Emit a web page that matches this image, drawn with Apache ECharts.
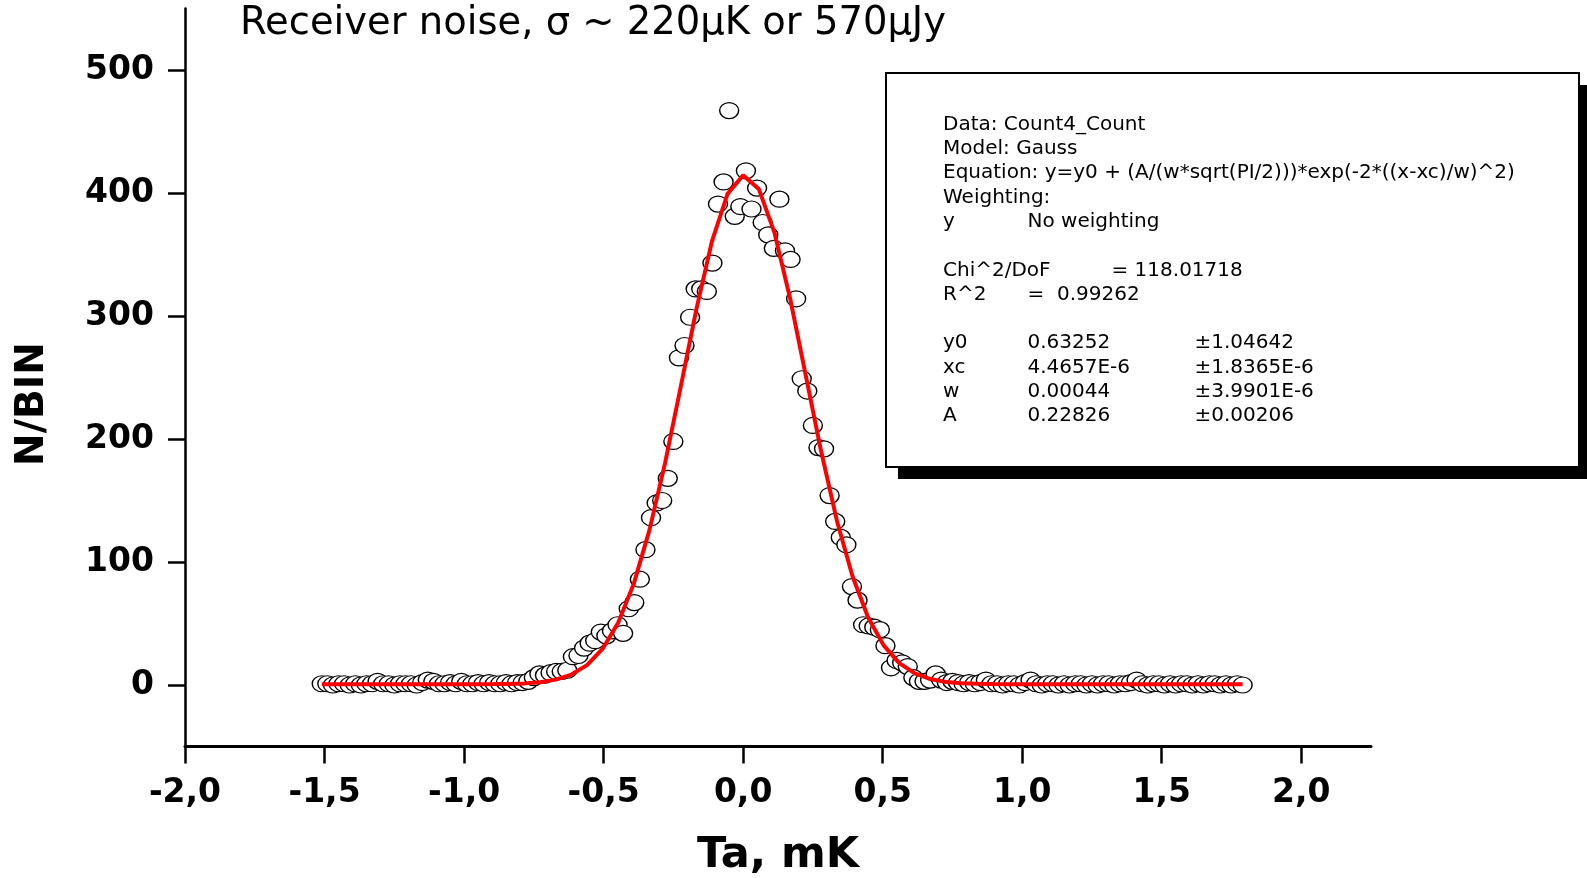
<!DOCTYPE html>
<html>
<head>
<meta charset="utf-8">
<script src="https://cdn.jsdelivr.net/npm/echarts@6/dist/echarts.min.js"></script>
<style>
html,body{margin:0;padding:0;background:#fff;}
#chart{width:1587px;height:878px;}
</style>
</head>
<body>
<div id="chart"></div>
<script>
// ---- data ----
const binCenters = [
-1.51,-1.49,-1.47,-1.45,-1.43,-1.41,-1.39,-1.37,-1.35,-1.33,
-1.31,-1.29,-1.27,-1.25,-1.23,-1.21,-1.19,-1.17,-1.15,-1.13,
-1.11,-1.09,-1.07,-1.05,-1.03,-1.01,-0.99,-0.97,-0.95,-0.93,
-0.91,-0.89,-0.87,-0.85,-0.83,-0.81,-0.79,-0.77,-0.75,-0.73,
-0.71,-0.69,-0.67,-0.65,-0.63,-0.61,-0.59,-0.57,-0.55,-0.53,
-0.51,-0.49,-0.47,-0.45,-0.43,-0.41,-0.39,-0.37,-0.35,-0.33,
-0.31,-0.29,-0.27,-0.25,-0.23,-0.21,-0.19,-0.17,-0.15,-0.13,
-0.11,-0.09,-0.07,-0.05,-0.03,-0.01,0.01,0.03,0.05,0.07,
0.09,0.11,0.13,0.15,0.17,0.19,0.21,0.23,0.25,0.27,
0.29,0.31,0.33,0.35,0.37,0.39,0.41,0.43,0.45,0.47,
0.49,0.51,0.53,0.55,0.57,0.59,0.61,0.63,0.65,0.67,
0.69,0.71,0.73,0.75,0.77,0.79,0.81,0.83,0.85,0.87,
0.89,0.91,0.93,0.95,0.97,0.99,1.01,1.03,1.05,1.07,
1.09,1.11,1.13,1.15,1.17,1.19,1.21,1.23,1.25,1.27,
1.29,1.31,1.33,1.35,1.37,1.39,1.41,1.43,1.45,1.47,
1.49,1.51,1.53,1.55,1.57,1.59,1.61,1.63,1.65,1.67,
1.69,1.71,1.73,1.75,1.77,1.79
];
const counts = [
1,1,0,1,1,0,1,0,1,1,
3,1,1,0,1,1,1,0,2,4,
3,1,1,2,1,3,1,1,2,1,
2,1,1,2,1,2,2,3,6,9,
8,10,11,11,12,23,24,30,34,36,
43,40,44,49,42,62,67,86,110,136,
148,150,168,198,266,276,299,322,322,320,
343,391,409,467,381,389,418,387,404,376,
366,355,395,353,346,314,249,239,211,193,
192,154,133,120,114,80,69,49,48,47,
45,32,14,20,18,15,6,3,3,4,
9,4,2,3,2,1,2,1,2,4,
1,1,0,1,1,0,2,4,1,0,
1,1,0,1,0,1,1,0,1,0,
1,1,0,1,1,2,4,1,0,1,
1,0,1,0,1,1,0,1,0,1,
1,0,1,0,1,0
];
const fitX = [
-1.5100,-1.4541,-1.3981,-1.3422,-1.2863,-1.2303,-1.1744,-1.1185,-1.0625,-1.0066,
-0.9507,-0.8947,-0.8388,-0.7829,-0.7269,-0.6710,-0.6151,-0.5592,-0.5032,-0.4473,
-0.3914,-0.3354,-0.2795,-0.2236,-0.1676,-0.1117,-0.0558,0.0002,0.0561,0.1120,
0.1680,0.2239,0.2798,0.3358,0.3917,0.4476,0.5036,0.5595,0.6154,0.6714,
0.7273,0.7832,0.8392,0.8951,0.9510,1.0070,1.0629,1.1188,1.1747,1.2307,
1.2866,1.3425,1.3985,1.4544,1.5103,1.5663,1.6222,1.6781,1.7341,1.7900
];
const fitY = [
0.63,0.63,0.63,0.63,0.63,0.63,0.63,0.63,0.63,0.64,
0.67,0.73,0.90,1.32,2.28,4.35,8.48,16.16,29.50,50.88,
82.6,126.1,180.6,242.4,305.4,360.7,399.3,414.5,403.3,368.0,
314.7,252.4,189.8,133.8,88.6,55.1,32.2,17.8,9.40,4.81,
2.51,1.42,0.94,0.75,0.67,0.64,0.63,0.63,0.63,0.63,
0.63,0.63,0.63,0.63,0.63,0.63,0.63,0.63,0.63,0.63
];
const xTickValues = [-2, -1.5, -1, -0.5, 0, 0.5, 1, 1.5, 2];
const xTickLabels = ['-2,0', '-1,5', '-1,0', '-0,5', '0,0', '0,5', '1,0', '1,5', '2,0'];
const yTickValues = [0, 100, 200, 300, 400, 500];
const yTickLabels = ['0', '100', '200', '300', '400', '500'];

const titleText = 'Receiver noise, \u03c3 ~ 220\u03bcK or 570\u03bcJy';
const fitReport = [
  {row: 0, cols: ['Data: Count4_Count']},
  {row: 1, cols: ['Model: Gauss']},
  {row: 2, cols: ['Equation: y=y0 + (A/(w*sqrt(PI/2)))*exp(-2*((x-xc)/w)^2)']},
  {row: 3, cols: ['Weighting:']},
  {row: 4, cols: ['y', 'No weighting']},
  {row: 6, cols: ['Chi^2/DoF', null, null, '= 118.01718']},
  {row: 7, cols: ['R^2', '=  0.99262']},
  {row: 9, cols: ['y0', '0.63252', '\u00b11.04642']},
  {row: 10, cols: ['xc', '4.4657E-6', '\u00b11.8365E-6']},
  {row: 11, cols: ['w', '0.00044', '\u00b13.9901E-6']},
  {row: 12, cols: ['A', '0.22826', '\u00b10.00206']}
];

// ---- chart ----
const FONT = 'DejaVu Sans';
const chart = echarts.init(document.getElementById('chart'), null, {renderer: 'canvas'});

const colX = [943, 1027.5, 1194.5, 1111.5];
const rowY0 = 124.5, rowH = 24.3;
const boxTexts = [];
fitReport.forEach(r => {
  r.cols.forEach((t, ci) => {
    if (t == null) return;
    boxTexts.push({
      type: 'text', x: colX[ci], y: rowY0 + r.row * rowH, z: 12,
      style: {text: t, fill: '#000', fontSize: 20, fontFamily: FONT,
        align: 'left', verticalAlign: 'middle', textAlign: 'left', textVerticalAlign: 'middle'}
    });
  });
});

const option = {
  backgroundColor: '#fff',
  animation: false,
  grid: {left: 185, right: 216, top: 8.5, bottom: 131.5, containLabel: false, outerBoundsMode: 'none'},
  xAxis: {
    type: 'value', min: -2, max: 2.25,
    name: 'Ta, mK', nameLocation: 'middle', nameGap: 88,
    nameTextStyle: {fontSize: 43, fontWeight: 'bold', fontFamily: FONT, color: '#000'},
    axisLine: {show: true, onZero: false, lineStyle: {color: '#000', width: 3}},
    axisTick: {show: true, customValues: xTickValues, length: 17, lineStyle: {color: '#000', width: 2.5}},
    axisLabel: {
      customValues: xTickValues, margin: 30, fontSize: 33, fontWeight: 'bold', fontFamily: FONT, color: '#000',
      formatter: v => { const k = xTickValues.findIndex(t => Math.abs(t - v) < 1e-9); return k >= 0 ? xTickLabels[k] : ''; }
    },
    splitLine: {show: false}
  },
  yAxis: {
    type: 'value', min: -50, max: 550,
    axisLine: {show: true, onZero: false, lineStyle: {color: '#000', width: 2.5}},
    axisTick: {show: true, customValues: yTickValues, length: 17, lineStyle: {color: '#000', width: 2.5}},
    axisLabel: {
      customValues: yTickValues, margin: 31, fontSize: 33, fontWeight: 'bold', fontFamily: FONT, color: '#000',
      padding: [5, 0, 0, 0],
      formatter: v => { const k = yTickValues.findIndex(t => Math.abs(t - v) < 1e-9); return k >= 0 ? yTickLabels[k] : ''; }
    },
    splitLine: {show: false}
  },
  series: [
    {
      type: 'scatter', name: 'Count4_Count',
      data: binCenters.map((x, i) => [x, counts[i]]),
      symbol: 'circle', symbolSize: [19, 16],
      itemStyle: {color: '#fff', borderColor: '#000', borderWidth: 1.3, opacity: 1},
      z: 2
    },
    {
      type: 'line', name: 'Gauss fit',
      data: fitX.map((x, i) => [x, fitY[i]]),
      showSymbol: false, symbol: 'none', smooth: false,
      lineStyle: {color: '#ff0000', width: 4},
      z: 3
    }
  ],
  graphic: [
    {type: 'text', x: 240, y: 24, z: 10,
      style: {text: titleText, fill: '#000', fontSize: 38.5, fontFamily: FONT,
        align: 'left', verticalAlign: 'middle', textAlign: 'left', textVerticalAlign: 'middle'}},
    {type: 'text', x: 33, y: 404, rotation: Math.PI / 2, z: 10,
      style: {text: 'N/BIN', fill: '#000', fontSize: 39, fontWeight: 'bold', fontFamily: FONT,
        align: 'center', verticalAlign: 'middle', textAlign: 'center', textVerticalAlign: 'middle'}},
    {type: 'rect', z: 10, shape: {x: 898, y: 85, width: 693, height: 394}, style: {fill: '#000'}},
    {type: 'rect', z: 11, shape: {x: 886, y: 73, width: 693, height: 394}, style: {fill: '#fff', stroke: '#000', lineWidth: 2}}
  ].concat(boxTexts)
};
chart.setOption(option);
</script>
</body>
</html>
